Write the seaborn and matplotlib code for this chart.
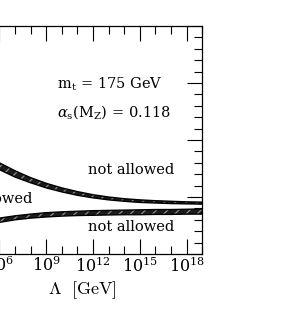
import numpy as np
import pandas as pd
import seaborn as sns
import matplotlib.pyplot as plt
from matplotlib.ticker import FixedLocator, MultipleLocator, LogFormatterMathtext, NullFormatter

sns.set_style("ticks")
plt.rcParams["font.family"] = ["DejaVu Serif"]
plt.rcParams["mathtext.fontset"] = "cm"
plt.rcParams["hatch.linewidth"] = 0.9
plt.rcParams["text.color"] = "black"
plt.rcParams["axes.labelcolor"] = "black"
plt.rcParams["xtick.color"] = "black"
plt.rcParams["ytick.color"] = "black"
plt.rcParams["axes.edgecolor"] = "black"

# log10 of Lambda [GeV] and Higgs mass bands [GeV]
log_lambda = [5.6, 6, 7, 8, 9, 10, 11, 12, 13, 14, 15, 16, 17, 18, 19]
upper_hi = [335, 320, 292, 268, 248, 232, 219, 208, 200, 194, 190, 187, 185, 183, 182]
upper_lo = [308, 296, 270, 250, 232, 218, 206, 197, 190, 185, 181, 179, 177, 176, 175]
lower_hi = [122, 126, 134, 140, 145, 148, 150, 152, 153, 154, 155, 156, 156, 157, 158]
lower_lo = [108, 111, 120, 126, 130, 133, 135, 136, 137, 138, 138, 139, 139, 140, 140]

lam = 10.0 ** np.array(log_lambda)
df = pd.DataFrame({"lam": lam, "upper_hi": upper_hi, "upper_lo": upper_lo,
                   "lower_hi": lower_hi, "lower_lo": lower_lo})

fig = plt.figure(figsize=(2.96, 3.27), dpi=100)
ax = fig.add_axes([-0.16, 0.2232, 0.843, 0.6973])

for lo, hi in [("upper_lo", "upper_hi"), ("lower_lo", "lower_hi")]:
    ax.fill_between(df["lam"], df[lo], df[hi], facecolor="#1c1c1c",
                    edgecolor="#8c8c8c", hatch="///", linewidth=0)
    for col in (lo, hi):
        sns.lineplot(data=df, x="lam", y=col, color="black", lw=1, ax=ax)

ax.set_xscale("log")
ax.set_xlim(1e3, 1e19)
ax.set_ylim(0, 800)

ax.xaxis.set_major_locator(FixedLocator(10.0 ** np.arange(3, 19, 3)))
ax.xaxis.set_minor_locator(FixedLocator(10.0 ** np.arange(3, 20)))
ax.xaxis.set_major_formatter(LogFormatterMathtext())
ax.xaxis.set_minor_formatter(NullFormatter())
ax.yaxis.set_major_locator(MultipleLocator(200))
ax.yaxis.set_minor_locator(MultipleLocator(40))
ax.tick_params(which="both", direction="in", top=True, right=True,
               labelleft=False, width=0.8, labelsize=11.5, pad=2)
ax.tick_params(which="major", length=11)
ax.tick_params(which="minor", length=5.5)
for s in ax.spines.values():
    s.set_linewidth(0.9)

ax.set_xlabel(r"$\Lambda\ \ \mathrm{[GeV]}$", fontsize=13)
ax.xaxis.set_label_coords(0.52, -0.11)
ax.set_ylabel("")

txt = dict(fontsize=10.5, math_fontfamily="dejavuserif", color="black")
ax.text(10 ** 9.69, 596, r"m$_\mathrm{t}$ = 175 GeV", ha="left", va="center", **txt)
ax.text(10 ** 9.69, 497, r"$\alpha_\mathrm{s}$(M$_\mathrm{Z}$) = 0.118", ha="left", va="center", **txt)
ax.text(10 ** 14.46, 296, "not allowed", ha="center", va="center", **txt)
ax.text(10 ** 14.46, 95, "not allowed", ha="center", va="center", **txt)
ax.text(10 ** 8.15, 194, "allowed", ha="right", va="center", **txt)

fig.savefig("out.png", dpi=100)
